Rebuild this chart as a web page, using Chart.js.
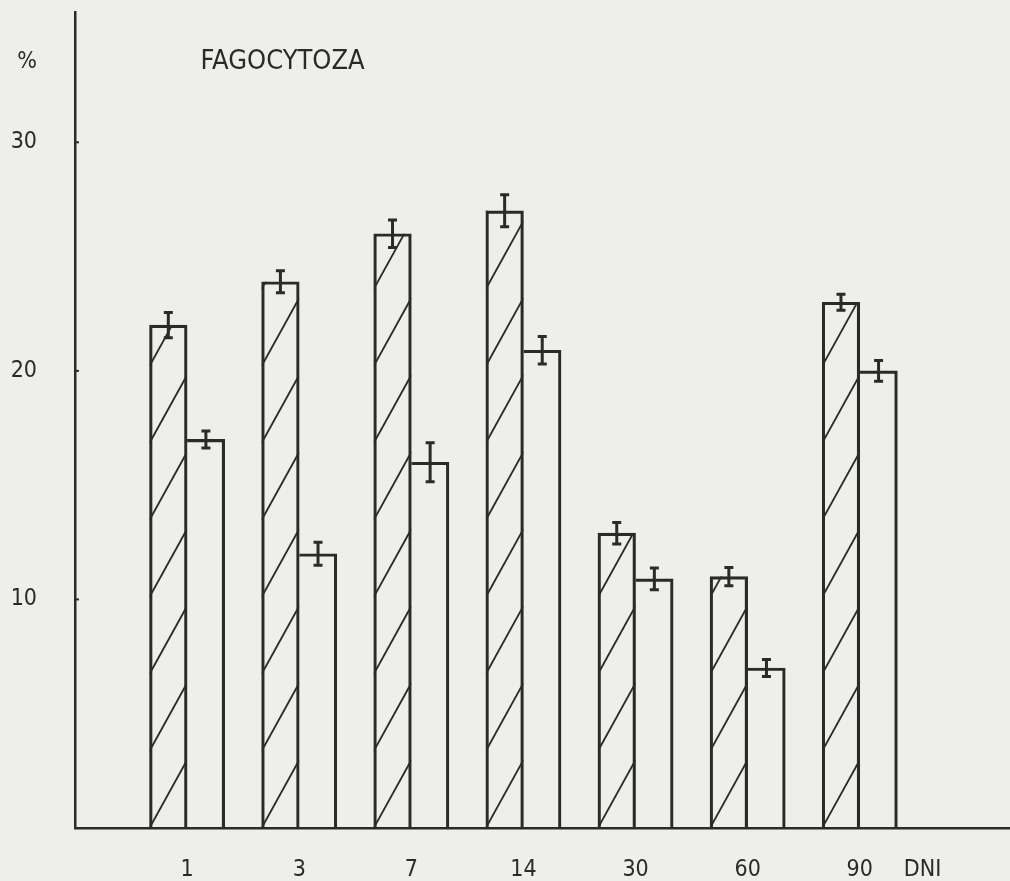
<!DOCTYPE html>
<html>
<head>
<meta charset="utf-8">
<script src="https://cdn.jsdelivr.net/npm/chart.js"></script>
<style>
  html, body { margin: 0; background: #eeeeea; }
  #wrap { width: 1010px; height: 881px; }
</style>
</head>
<body>
<div id="wrap"><canvas id="chart"></canvas></div>
<script>
// Data
const days = ['1', '3', '7', '14', '30', '60', '90'];
const dayPos = [1, 2, 3, 4, 5, 6, 7];
const hatchedValues = [22.0, 23.9, 26.0, 27.0, 12.9, 11.0, 23.0];
const hatchedErrors = [0.55, 0.48, 0.6, 0.7, 0.47, 0.4, 0.35];
const openValues = [17.0, 12.0, 16.0, 20.9, 10.9, 7.0, 20.0];
const openErrors = [0.37, 0.5, 0.85, 0.6, 0.48, 0.37, 0.45];
const yTicks = [10, 20, 30];
const unitLabel = '%';
const axisUnit = 'DNI';
const chartTitle = 'FAGOCYTOZA';

const INK = '#2a2a2a';
const FONT = "'DejaVu Sans Condensed', 'DejaVu Sans', sans-serif";

// positions of the extra labels (% and DNI) along the axes
const unitPos = 33.5;
const dniPos = 7.56;

// Hatching + error bars + title
const decor = {
  id: 'decor',
  afterDatasetsDraw(chart) {
    const ctx = chart.ctx;
    const x = chart.scales.x, y = chart.scales.y;
    ctx.save();
    ctx.strokeStyle = INK;
    ctx.lineCap = 'butt';

    // diagonal hatch in first series
    chart.getDatasetMeta(0).data.forEach(bar => {
      const p = bar.getProps(['x', 'y', 'base', 'width'], true);
      const l = p.x - p.width / 2, r = p.x + p.width / 2;
      ctx.save();
      ctx.beginPath();
      ctx.rect(l, p.y, p.width, p.base - p.y);
      ctx.clip();
      ctx.lineWidth = 1.8;
      const step = 77, rise = 68;
      for (let b = p.base; b > p.y - rise; b -= step) {
        ctx.beginPath();
        ctx.moveTo(l, b);
        ctx.lineTo(r, b - rise);
        ctx.stroke();
      }
      ctx.restore();
    });

    // error bars
    const errs = [hatchedErrors, openErrors];
    [0, 1].forEach(di => {
      const ds = chart.data.datasets[di];
      chart.getDatasetMeta(di).data.forEach((bar, i) => {
        const v = ds.data[i].y, e = errs[di][i];
        const cx = bar.x;
        const top = y.getPixelForValue(v + e), bot = y.getPixelForValue(v - e);
        ctx.lineWidth = 3;
        ctx.beginPath();
        ctx.moveTo(cx, top); ctx.lineTo(cx, bot);
        ctx.moveTo(cx - 4.5, top); ctx.lineTo(cx + 4.5, top);
        ctx.moveTo(cx - 4.5, bot); ctx.lineTo(cx + 4.5, bot);
        ctx.stroke();
      });
    });

    // small inner ticks on y axis
    ctx.lineWidth = 2;
    yTicks.forEach(t => {
      const py = y.getPixelForValue(t);
      ctx.beginPath();
      ctx.moveTo(x.left, py); ctx.lineTo(x.left + 4, py);
      ctx.stroke();
    });

    // title inside the plot
    ctx.fillStyle = INK;
    ctx.font = '27px ' + FONT;
    ctx.textBaseline = 'middle';
    ctx.textAlign = 'left';
    ctx.fillText(chartTitle, x.getPixelForValue(1.12), y.getPixelForValue(unitPos));
    ctx.restore();
  }
};

new Chart(document.getElementById('chart'), {
  type: 'bar',
  data: {
    datasets: [
      {
        label: 'hatched',
        data: dayPos.map((p, i) => ({ x: p, y: hatchedValues[i] })),
        backgroundColor: 'rgba(0,0,0,0)',
        borderColor: INK,
        borderWidth: 2.5
      },
      {
        // open bars share the left edge with the hatched bar
        label: 'open',
        data: dayPos.map((p, i) => ({ x: p, y: openValues[i] })),
        backgroundColor: 'rgba(0,0,0,0)',
        borderColor: INK,
        borderWidth: { top: 2.5, right: 2.5, left: 0, bottom: 0 }
      }
    ]
  },
  options: {
    responsive: true,
    maintainAspectRatio: false,
    animation: false,
    barThickness: 37.6,
    layout: { padding: { top: 12, right: 0, left: 0, bottom: 0 } },
    plugins: {
      legend: { display: false },
      tooltip: { enabled: false }
    },
    scales: {
      x: {
        type: 'linear',
        offset: false,
        min: 0,
        max: 8.34,
        grid: { display: false, drawTicks: false },
        border: { display: true, color: INK, width: 2.5 },
        afterBuildTicks: s => { s.ticks = dayPos.concat([dniPos]).map(v => ({ value: v })); },
        afterFit: s => { s.height = 53; s.paddingLeft = 0; s.paddingRight = 0; },
        ticks: {
          autoSkip: false,
          maxRotation: 0,
          padding: 28,
          color: INK,
          font: { family: FONT, size: 23 },
          callback: v => {
            const i = dayPos.indexOf(v);
            return i >= 0 ? days[i] : axisUnit;
          }
        }
      },
      y: {
        min: 0,
        max: 35.7,
        grid: { display: false, drawTicks: false },
        border: { display: true, color: INK, width: 2.5 },
        afterBuildTicks: s => { s.ticks = yTicks.concat([unitPos]).map(v => ({ value: v })); },
        afterFit: s => { s.width = 75; s.paddingTop = 0; s.paddingBottom = 0; },
        ticks: {
          padding: 38,
          color: INK,
          font: { family: FONT, size: 23 },
          callback: v => (v === unitPos ? unitLabel : String(v))
        }
      }
    }
  },
  plugins: [decor]
});
</script>
</body>
</html>
